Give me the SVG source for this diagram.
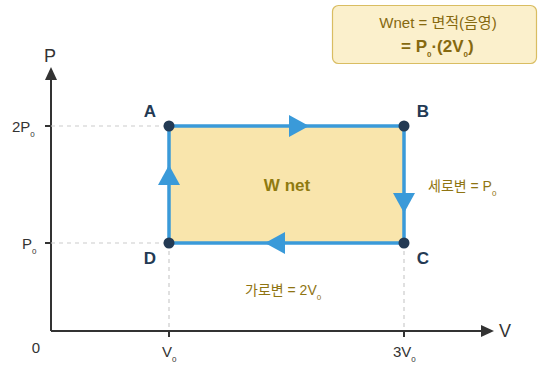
<svg xmlns="http://www.w3.org/2000/svg" width="540" height="365" viewBox="0 0 540 365">
<defs>
<style>
.ax{stroke:#333;stroke-width:2;fill:none}
.dash{stroke:#ccc;stroke-width:1.2;stroke-dasharray:4 4;fill:none}
.lbl{font-family:"Liberation Sans",Arial,sans-serif;fill:#333;font-size:15px}
.big{font-size:18px}
.pt{font-family:"Liberation Sans",Arial,sans-serif;fill:#233a54;font-size:17px;font-weight:bold}
.ol{font-family:"Liberation Sans","Noto Sans CJK KR",sans-serif;fill:#8f7412;font-size:14px}
.hd{font-size:15px;fill:#86690f}
.bf{font-size:17px;font-weight:bold;fill:#86690f}
.sub{font-size:8px}
.edge{stroke:#3a9ad9;stroke-width:3.5;fill:none}
.tri{fill:#3a9ad9}
.dot{fill:#233a54}
</style>
</defs>
<g id="axes">
<line class="ax" x1="51" y1="331" x2="484" y2="331"/>
<polygon points="494,331 481,325 481,337" fill="#333"/>
<line class="ax" x1="51" y1="331" x2="51" y2="78"/>
<polygon points="51,67 45,80 57,80" fill="#333"/>
<line class="ax" x1="45" y1="126" x2="51" y2="126"/>
<line class="ax" x1="45" y1="243" x2="51" y2="243"/>
<line class="ax" x1="169" y1="331" x2="169" y2="337"/>
<line class="ax" x1="404" y1="331" x2="404" y2="337"/>
<text class="lbl big" x="50" y="62" text-anchor="middle">P</text>
<text class="lbl big" x="505" y="337" text-anchor="middle">V</text>
<text class="lbl" x="36" y="353" text-anchor="middle">0</text>
<text class="lbl" x="12" y="132">2P<tspan class="sub" dy="5">0</tspan></text>
<text class="lbl" x="22" y="249">P<tspan class="sub" dy="5">0</tspan></text>
<text class="lbl" x="162" y="357">V<tspan class="sub" dy="5">0</tspan></text>
<text class="lbl" x="393" y="357">3V<tspan class="sub" dy="5">0</tspan></text>
</g>
<g id="guides">
<line class="dash" x1="51" y1="126" x2="169" y2="126"/>
<line class="dash" x1="51" y1="243" x2="169" y2="243"/>
<line class="dash" x1="169" y1="243" x2="169" y2="331"/>
<line class="dash" x1="404" y1="243" x2="404" y2="331"/>
</g>
<g id="area">
<rect x="169" y="126" width="235" height="117" fill="#f9e5ac"/>
<text x="287" y="191" text-anchor="middle" font-family="Liberation Sans,Arial,sans-serif" font-size="17" font-weight="bold" fill="#8f7a10">W net</text>
</g>
<g id="connectors">
<line class="edge" x1="169" y1="126" x2="404" y2="126"/>
<line class="edge" x1="404" y1="126" x2="404" y2="243"/>
<line class="edge" x1="404" y1="243" x2="169" y2="243"/>
<line class="edge" x1="169" y1="243" x2="169" y2="126"/>
<polygon class="tri" points="309,126 289,115 289,137"/>
<polygon class="tri" points="404,213 393,193 415,193"/>
<polygon class="tri" points="265,243 285,232 285,254"/>
<polygon class="tri" points="169,165 158,185 180,185"/>
</g>
<g id="A"><circle class="dot" cx="169" cy="126" r="5.5"/><text class="pt" x="150" y="117" text-anchor="middle">A</text></g>
<g id="B"><circle class="dot" cx="404" cy="126" r="5.5"/><text class="pt" x="423" y="117" text-anchor="middle">B</text></g>
<g id="C"><circle class="dot" cx="404" cy="243" r="5.5"/><text class="pt" x="423" y="264" text-anchor="middle">C</text></g>
<g id="D"><circle class="dot" cx="169" cy="243" r="5.5"/><text class="pt" x="150" y="264" text-anchor="middle">D</text></g>
<g id="side-labels">
<text class="ol" x="428" y="191">세로변 = P<tspan class="sub" dy="5">0</tspan></text>
<text class="ol" x="245" y="295">가로변 = 2V<tspan class="sub" dy="5">0</tspan></text>
</g>
<g id="formula">
<rect x="332.5" y="5.5" width="204" height="58" rx="6" fill="#fbf0cc" stroke="#d9bd62" stroke-width="1.2"/>
<text class="ol hd" x="438" y="28" text-anchor="middle">Wnet = 면적(음영)</text>
<text class="ol bf" x="401" y="52">= P<tspan class="sub" dy="5">0</tspan><tspan dy="-5">·(2V</tspan><tspan class="sub" dy="5">0</tspan><tspan dy="-5">)</tspan></text>
</g>
</svg>
